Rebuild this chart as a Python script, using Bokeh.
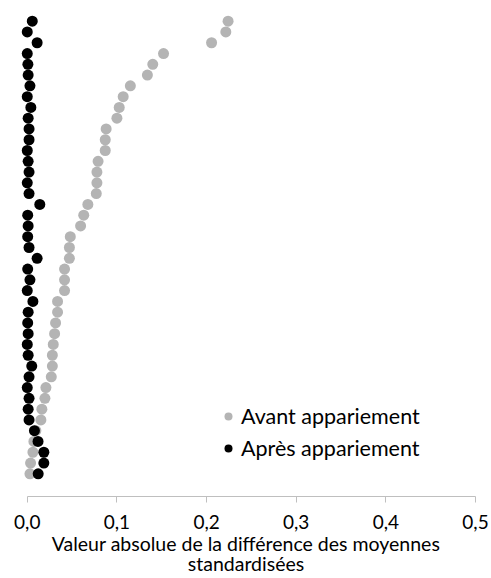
from bokeh.plotting import figure
from bokeh.models import ColumnDataSource, Range1d, CustomJSTickFormatter, FixedTicker, Legend, LegendItem
from bokeh.embed import file_html
from bokeh.resources import INLINE

# Values (top row first)
avant = [0.224, 0.2215, 0.2056, 0.152, 0.140, 0.134, 0.115, 0.107, 0.1026, 0.100,
         0.088, 0.087, 0.087, 0.079, 0.0777, 0.0777, 0.077, 0.0676, 0.063, 0.0595,
         0.048, 0.047, 0.047, 0.0416, 0.0416, 0.0416, 0.0338, 0.0338, 0.0316, 0.0305,
         0.029, 0.028, 0.028, 0.0268, 0.0208, 0.0197, 0.0163, 0.0152, 0.0096, 0.0074,
         0.0063, 0.0037, 0.003]
apres = [0.0056, 0.0, 0.011, 0.0, 0.0007, 0.001, 0.003, 0.0, 0.004, 0.001,
         0.002, 0.002, 0.0, 0.001, 0.002, 0.0, 0.002, 0.014, 0.0005, 0.001,
         0.0005, 0.002, 0.011, 0.0005, 0.003, 0.0, 0.0063, 0.001, 0.0005, 0.001,
         0.0, 0.001, 0.005, 0.002, 0.0, 0.002, 0.001, 0.002, 0.008, 0.012,
         0.0185, 0.0185, 0.0122]
rows = list(range(len(avant), 0, -1))
x_ticks = [0.0, 0.1, 0.2, 0.3, 0.4, 0.5]
series_labels = ["Avant appariement", "Après appariement"]
x_title = "Valeur absolue de la différence des moyennes\nstandardisées"

FONT = "Lato"

p = figure(width=491, height=578, output_backend="svg", toolbar_location=None,
           x_range=Range1d(-0.012, 0.5), y_range=Range1d(-1.107, 44.457),
           min_border_left=16, min_border_right=16, min_border_top=5, min_border_bottom=82)
p.outline_line_color = None
p.grid.visible = False
p.yaxis.visible = False

src_a = ColumnDataSource(dict(x=avant, y=rows))
src_b = ColumnDataSource(dict(x=apres, y=rows))
ra = p.scatter("x", "y", source=src_a, size=11, fill_color="#b4b4b4", line_color=None)
rb = p.scatter("x", "y", source=src_b, size=11, fill_color="#000000", line_color=None)

ax = p.xaxis[0]
ax.bounds = (0, 0.5)
ax.ticker = FixedTicker(ticks=x_ticks)
ax.formatter = CustomJSTickFormatter(code="return tick.toFixed(1).replace('.', ',');")
ax.axis_line_color = "#bfbfbf"
ax.major_tick_line_color = "#bfbfbf"
ax.major_tick_out = 6
ax.major_tick_in = 0
ax.minor_tick_line_color = None
ax.major_label_text_font = FONT
ax.major_label_text_font_size = "19px"
ax.major_label_text_color = "#000000"
ax.major_label_standoff = 12
ax.axis_label = x_title
ax.axis_label_text_font = FONT
ax.axis_label_text_font_size = "19.5px"
ax.axis_label_text_line_height = 0.9
ax.axis_label_text_font_style = "normal"
ax.axis_label_text_color = "#000000"
ax.axis_label_standoff = 0

legend = Legend(items=[LegendItem(label=series_labels[0], renderers=[ra]),
                       LegendItem(label=series_labels[1], renderers=[rb])],
                location=(201, 35), padding=0, margin=0, spacing=6,
                glyph_width=22, glyph_height=20, label_standoff=2,
                label_text_font=FONT, label_text_font_size="21.5px",
                label_text_color="#000000",
                border_line_color=None, background_fill_alpha=0)
p.add_layout(legend, "center")

open("out.html", "w").write(file_html(p, INLINE))
